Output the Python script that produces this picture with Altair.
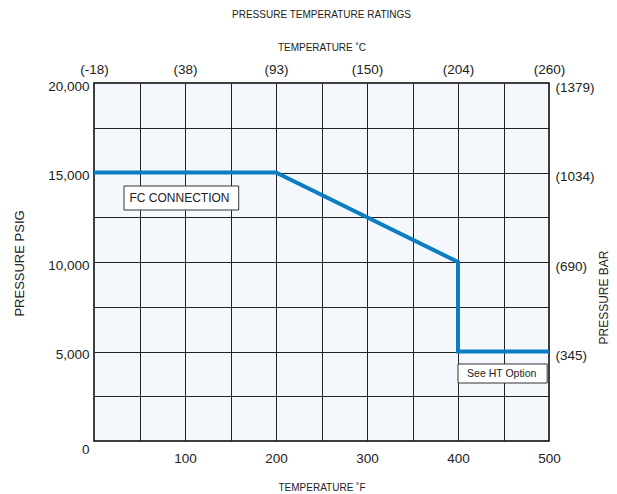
import json
import altair as alt
import pandas as pd

# Line data (temperature °F, pressure psig)
temp_f = [0, 200, 400, 400, 500]
psig = [15000, 15000, 10000, 5000, 5000]

# Axis values
x_grid = [0, 50, 100, 150, 200, 250, 300, 350, 400, 450, 500]
y_grid = [0, 2500, 5000, 7500, 10000, 12500, 15000, 17500, 20000]
f_ticks = [0, 100, 200, 300, 400, 500]
c_labels = ["(-18)", "(38)", "(93)", "(150)", "(204)", "(260)"]
psig_ticks = [5000, 10000, 15000, 20000]
bar_labels = ["(345)", "(690)", "(1034)", "(1379)"]

# Annotations
notes = ["FC CONNECTION", "See HT Option"]
note_x = [94, 448]
note_y = [13575, 3770]
box_x1 = [33, 400]
box_x2 = [159, 498]
box_y1 = [14246, 4302]
box_y2 = [12905, 3240]

SANS = "Liberation Sans, Arial, Helvetica"
TXT = "#222222"

df_line = pd.DataFrame({"f": temp_f, "p": psig, "i": list(range(len(temp_f)))})
df_note = pd.DataFrame({"t": notes, "x": note_x, "y": note_y,
                        "x1": box_x1, "x2": box_x2, "y1": box_y1, "y2": box_y2})

xs = alt.Scale(domain=[0, 500], nice=False, zero=False)
ys = alt.Scale(domain=[0, 20000], nice=False)

edge_x = "datum.value == 0 || datum.value == 500"
edge_y = "datum.value == 0 || datum.value == 20000"

bottom_axis = alt.Axis(
    values=x_grid,
    labelExpr="datum.value % 100 == 0 && datum.value > 0 ? datum.value : ''",
    ticks=False, domain=False, grid=True, gridColor="#222222", gridWidth=1,
    gridOpacity={"condition": {"test": edge_x, "value": 0}, "value": 1},
    labelFont=SANS, labelFontSize=13.5, labelColor=TXT, labelPadding=10, labelFlush=False,
    title="TEMPERATURE ˚F", titleFont=SANS, titleFontSize=10, titleFontWeight="normal",
    titleColor=TXT, titleY=46, titleBaseline="middle",
)
left_axis = alt.Axis(
    values=y_grid,
    labelExpr="datum.value % 5000 == 0 ? format(datum.value, ',') : ''",
    ticks=False, domain=False, grid=True, gridColor="#222222", gridWidth=1,
    gridOpacity={"condition": {"test": edge_y, "value": 0}, "value": 1},
    labelFont=SANS, labelFontSize=13.5, labelColor=TXT, labelPadding=5,
    labelOffset={"condition": {"test": "datum.value == 0", "value": 8}, "value": 3},
    title="PRESSURE PSIG", titleFont=SANS, titleFontSize=13, titleFontWeight="normal",
    titleColor=TXT, titleX=-75, titleY=180, titleAlign="center", titleBaseline="middle",
)
top_axis = alt.Axis(
    orient="top", values=f_ticks,
    labelExpr=json.dumps(c_labels) + "[round(datum.value / 100)]",
    ticks=False, domain=False, grid=False, labelFlush=False,
    labelFont=SANS, labelFontSize=13.5, labelColor=TXT, labelPadding=7,
    title="TEMPERATURE ˚C", titleFont=SANS, titleFontSize=10, titleFontWeight="normal",
    titleColor=TXT, titleY=-36, titleBaseline="middle",
)
right_axis = alt.Axis(
    orient="right", values=psig_ticks,
    labelExpr=json.dumps(bar_labels) + "[round(datum.value / 5000) - 1]",
    ticks=False, domain=False, grid=False,
    labelFont=SANS, labelFontSize=13.5, labelColor=TXT, labelPadding=6, labelOffset=4,
    title="PRESSURE BAR", titleFont=SANS, titleFontSize=12, titleFontWeight="normal",
    titleColor=TXT, titleAngle=270, titleX=54, titleY=214,
    titleAlign="center", titleBaseline="middle",
)

line = alt.Chart(df_line).mark_line(color="#0b7dc2", strokeWidth=4, strokeCap="butt", strokeJoin="miter").encode(
    x=alt.X("f:Q", scale=xs, axis=bottom_axis),
    y=alt.Y("p:Q", scale=ys, axis=left_axis),
    order="i:O",
)

boxes = alt.Chart(df_note).mark_rect(fill="white", stroke="#333333", strokeWidth=1).encode(
    x=alt.X("x1:Q", scale=xs, axis=top_axis),
    x2="x2:Q",
    y=alt.Y("y1:Q", scale=ys, axis=right_axis),
    y2="y2:Q",
)

labels = alt.Chart(df_note).mark_text(font=SANS, color=TXT).encode(
    x=alt.X("x:Q", scale=xs, axis=None),
    y=alt.Y("y:Q", scale=ys, axis=None),
    text="t:N",
    size=alt.condition("datum.t == 'See HT Option'", alt.value(10.5), alt.value(12)),
)

chart = alt.layer(line, boxes, labels).resolve_axis(x="independent", y="independent").properties(
    width=455, height=358,
    autosize=alt.AutoSizeParams(type="none"),
    padding={"left": 86, "top": 75, "right": 60, "bottom": 52},
    title=alt.TitleParams("PRESSURE TEMPERATURE RATINGS", font=SANS, fontSize=10,
                          fontWeight="normal", color=TXT, anchor="middle", frame="group", offset=22),
).configure_view(fill="#f4f8fc", stroke="black", strokeWidth=1.5)

chart.save("out.html", embed_options={"renderer": "svg", "actions": False})
